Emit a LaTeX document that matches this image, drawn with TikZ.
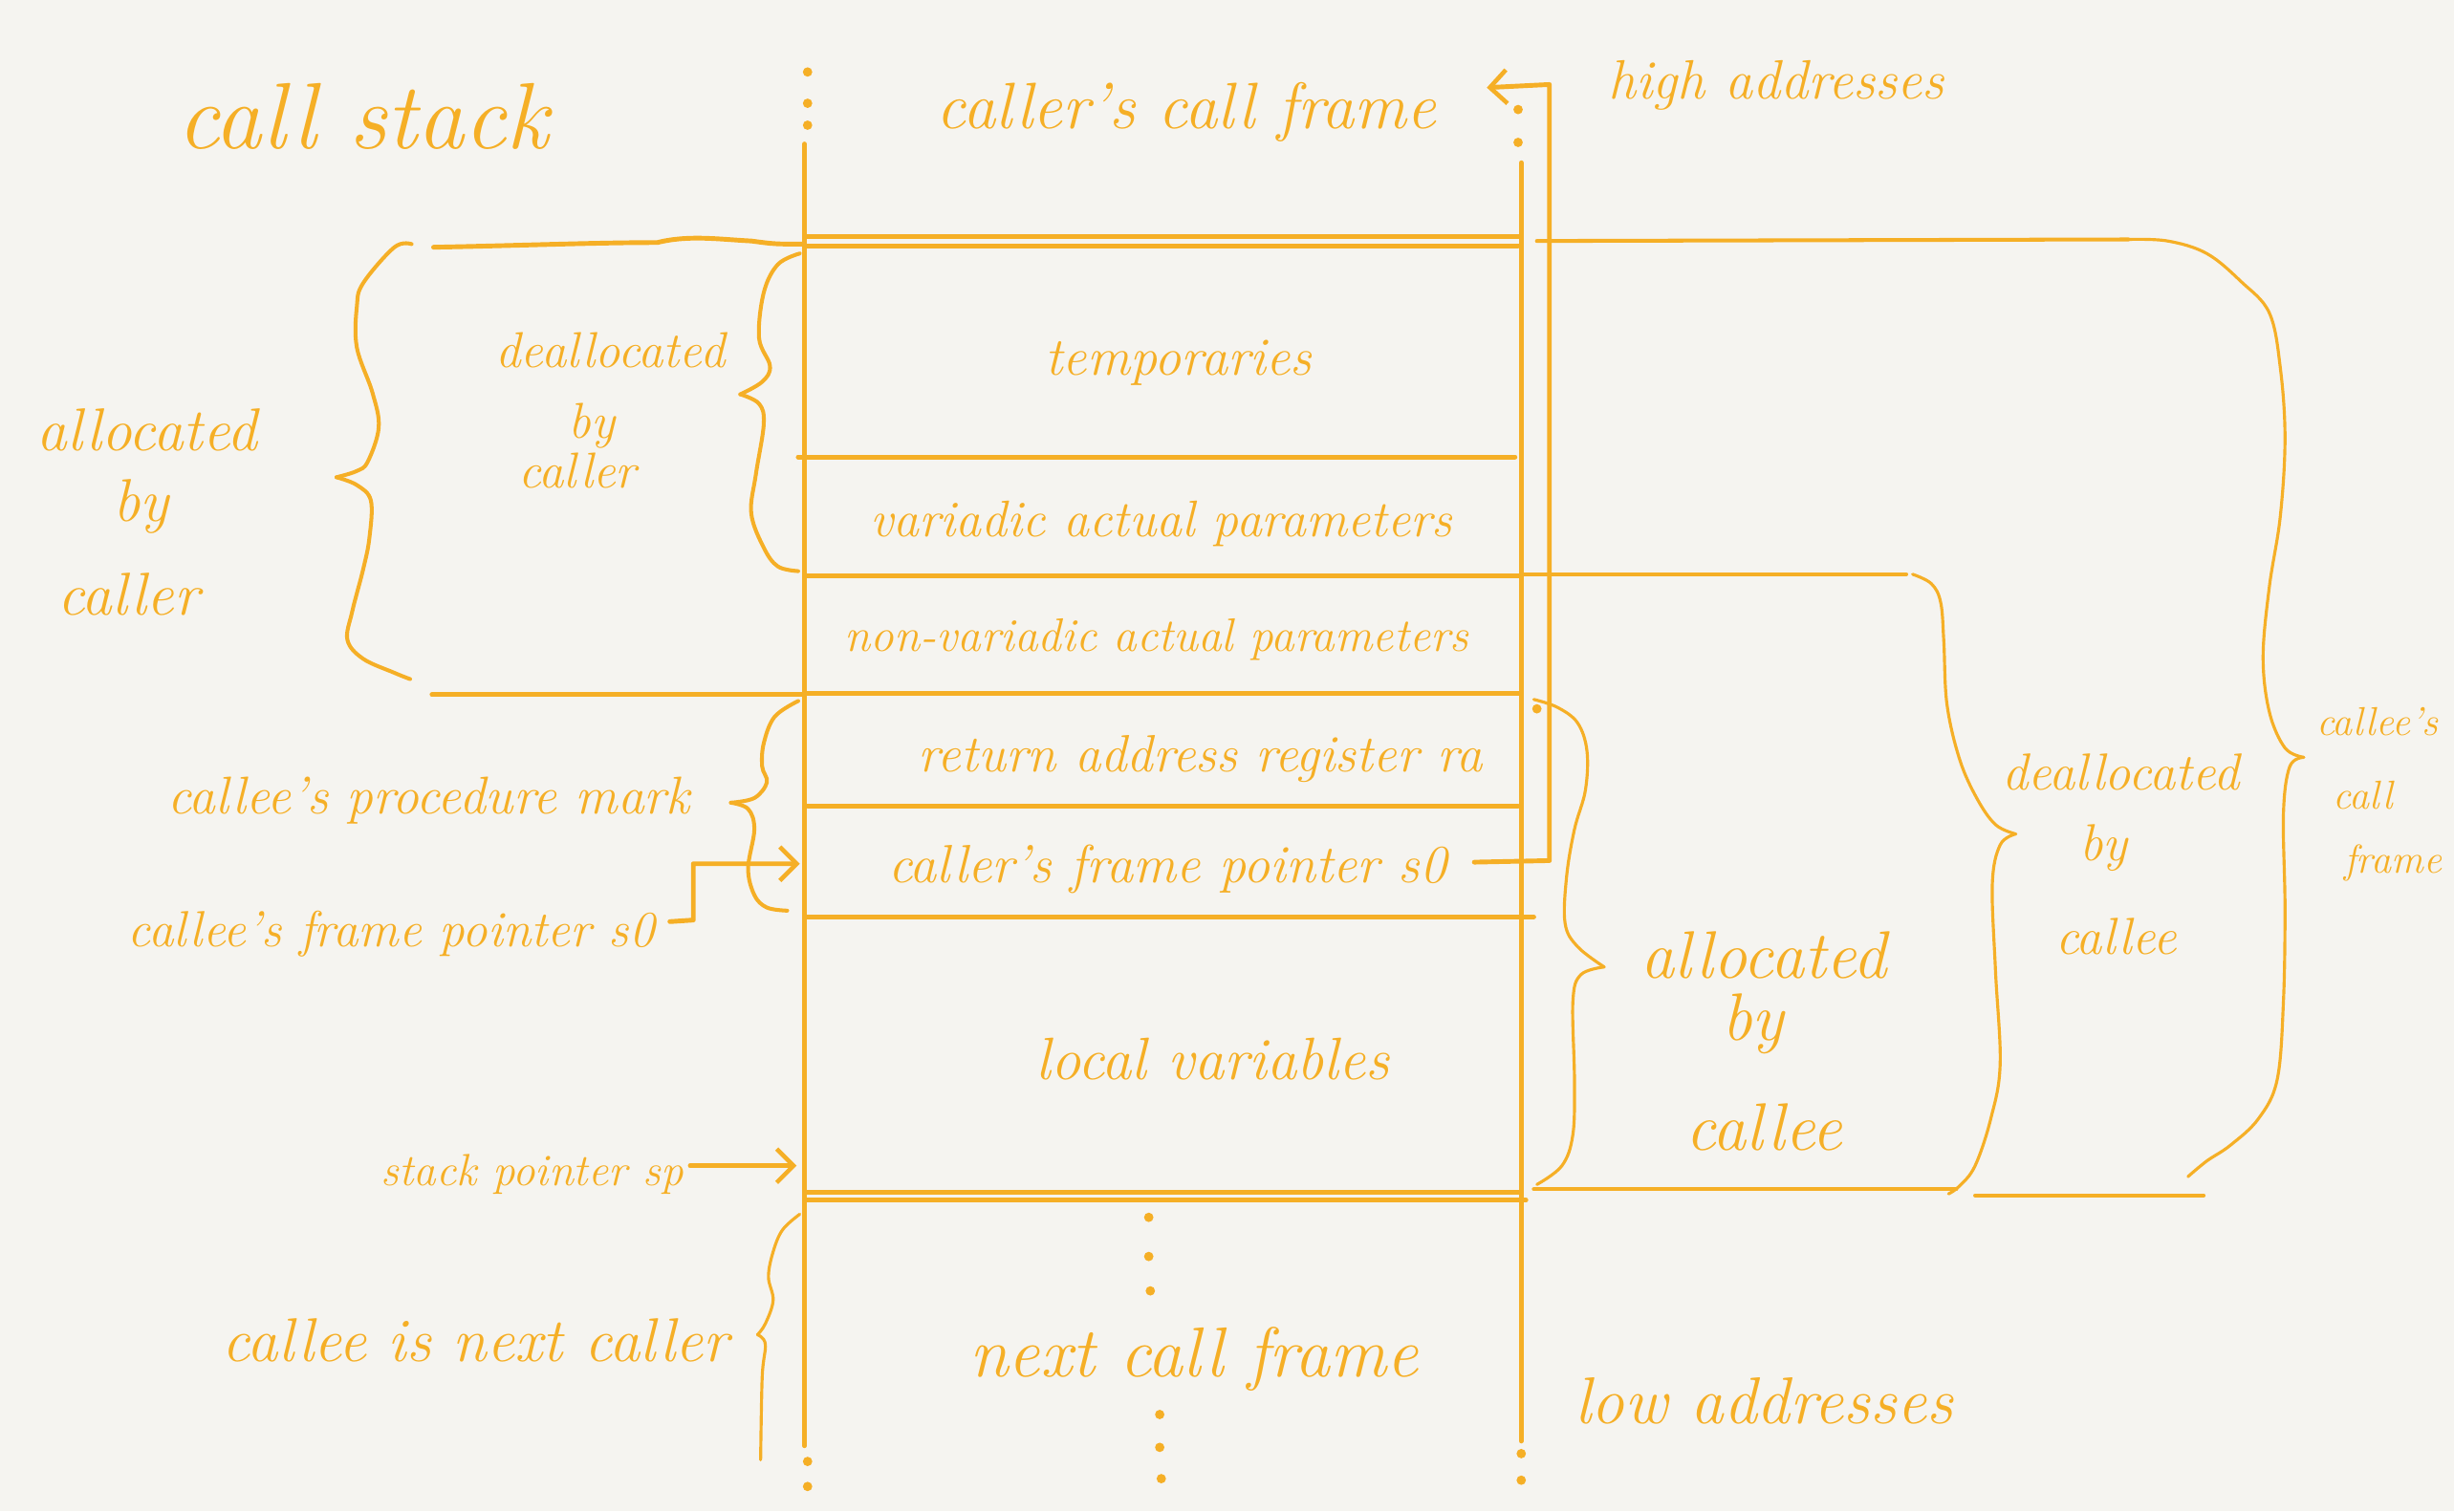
\documentclass[tikz,border=0pt]{standalone}
\usepackage{fontspec}
\usetikzlibrary{arrows.meta}
\definecolor{ink}{HTML}{F5AF26}
\definecolor{paper}{HTML}{F5F4F0}
\begin{document}
\begin{tikzpicture}[x=0.01637cm,y=-0.01637cm, line cap=round, line join=round,
  mainline/.style={draw=ink, line width=1.4pt},
  braceline/.style={draw=ink, line width=1.15pt},
  thinline/.style={draw=ink, line width=0.9pt},
  lbl/.style={text=ink, inner sep=0pt, anchor=base},
  fs/.style={font=\fontsize{#1}{#1}\selectfont\itshape},
  tip/.style={-{Straight Barb[length=5pt,width=10pt,line width=1.3pt]}}]
\path[fill=paper] (0,0) rectangle (1568,966);
\useasboundingbox (0,0) rectangle (1568,966);

% stack verticals
\draw[mainline] (514,92) -- (514,924);
\draw[mainline] (972,104) -- (972,921);
\foreach \p in {(516,46),(516,66),(516,80),(516,934),(516,950),(970,70),(970,91),(972,929),(972,946),
  (734,778),(734,803),(735,825),(741,904),(741,925),(742,945),(982,453)}
  \fill[ink] \p circle[radius=1.4pt];

% stack horizontals
\draw[mainline] (514,151) -- (972,151);
\draw[mainline] (514,157) -- (970,157);
\draw[mainline] (510,292) -- (968,292);
\draw[mainline] (514,368) -- (972,368);
\draw[mainline] (514,443) -- (972,443);
\draw[mainline] (516,515) -- (970,515);
\draw[mainline] (516,586) -- (980,586);
\draw[mainline] (514,762) -- (972,762);
\draw[mainline] (514,767) -- (975,767);

% left extensions
\draw[mainline] (277,158) .. controls (330,157) and (380,155) .. (420,155)
  .. controls (440,150) and (460,153) .. (480,154) .. controls (495,156) .. (514,156);
\draw[mainline] (276,444) -- (514,444);

% right extensions
\draw[braceline] (982,154) -- (1360,153);
\draw[braceline] (972,367) -- (1218,367);
\draw[braceline] (980,760) -- (1250,760);
\draw[braceline] (1262,764) -- (1408,764);

% braces
\draw[braceline] plot[smooth, tension=0.6] coordinates {(263,156) (252,158) (232,181) (228,196) (228,222) (238,251) (242,273) (235,295) (228,301) (215,305)};
\draw[braceline] plot[smooth, tension=0.6] coordinates {(215,305) (228,310) (237,320) (236,344) (232,364) (225,391) (222,409) (232,421) (252,430) (262,434)};

\draw[braceline] plot[smooth, tension=0.6] coordinates {(511,162) (497,169) (488,187) (485,216) (492,234) (487,244) (473,252)};
\draw[braceline] plot[smooth, tension=0.6] coordinates {(473,252) (485,258) (488,271) (483,303) (480,328) (488,350) (497,362) (510,365)};

\draw[braceline] plot[smooth, tension=0.6] coordinates {(510,448) (495,458) (488,475) (487,490) (490,500) (482,510) (467,513)};
\draw[braceline] plot[smooth, tension=0.6] coordinates {(467,513) (478,517) (482,530) (478,555) (482,572) (490,580) (503,582)};

\draw[thinline] plot[smooth, tension=0.6] coordinates {(511,776) (500,786) (494,800) (491,816) (494,831) (489,846) (484,853)};
\draw[thinline] plot[smooth, tension=0.6] coordinates {(484,853) (489,859) (487,880) (486,933)};

\draw[thinline] plot[smooth, tension=0.6] coordinates {(980,447) (995,452) (1008,462) (1014,480) (1013,505) (1006,530) (1001,560) (1000,590) (1008,605) (1025,618)};
\draw[thinline] plot[smooth, tension=0.6] coordinates {(1025,618) (1010,623) (1005,640) (1006,690) (1005,725) (998,745) (982,757)};

\draw[thinline] plot[smooth, tension=0.6] coordinates {(1222,367) (1234,373) (1240,385) (1242,410) (1244,450) (1252,485) (1263,510) (1275,527) (1288,533)};
\draw[thinline] plot[smooth, tension=0.6] coordinates {(1288,533) (1278,540) (1273,565) (1275,620) (1278,680) (1272,715) (1262,745) (1252,758) (1245,763)};

\draw[thinline] plot[smooth, tension=0.6] coordinates {(1360,153) (1385,154) (1410,162) (1432,180) (1450,200) (1457,235) (1460,280) (1457,330) (1450,375) (1446,420) (1450,455) (1460,478) (1472,484)};
\draw[thinline] plot[smooth, tension=0.6] coordinates {(1472,484) (1463,490) (1459,520) (1460,580) (1459,640) (1455,690) (1443,715) (1425,732) (1410,742) (1398,752)};

% texts
\node[lbl, fs=28] (title) at (232,95) {call stack};
\node[lbl, fs=19.5] (prev) at (758,82) {caller's call frame};
\node[lbl, fs=16.5] (high) at (1135,63) {high addresses};
\node[lbl, fs=16] (temp) at (753,240) {temporaries};
\node[lbl, fs=15.3] (varp) at (742,343) {variadic actual parameters};
\node[lbl, fs=14] (nvarp) at (739,416) {non-variadic actual parameters};
\node[lbl, fs=15.6] (ra) at (767,493) {return address register ra};
\node[lbl, fs=16] (fps) at (746,564) {caller's frame pointer s0};
\node[lbl, fs=17.8] (locv) at (775,690) {local variables};
\node[lbl, fs=21] (nextf) at (763,880) {next call frame};
\node[lbl, fs=19.7] (low) at (1127,910) {low addresses};

\node[lbl, fs=18] (ac1) at (94,288) {allocated};
\node[lbl, fs=18] (ac2) at (90,333) {by};
\node[lbl, fs=18] (ac3) at (82,393) {caller};
\node[lbl, fs=15] (dc1) at (390,235) {deallocated};
\node[lbl, fs=15] (dc2) at (378,280) {by};
\node[lbl, fs=15] (dc3) at (369,312) {caller};
\node[lbl, fs=15.8] (pm) at (274,520) {callee's procedure mark};
\node[lbl, fs=15.1] (cfp) at (250,605) {callee's frame pointer s0};
\node[lbl, fs=13.4] (spl) at (340,758) {stack pointer sp};
\node[lbl, fs=18.4] (nc) at (304,870) {callee is next caller};

\node[lbl, fs=20] (ae1) at (1127,625) {allocated};
\node[lbl, fs=20] (ae2) at (1120,665) {by};
\node[lbl, fs=20] (ae3) at (1127,735) {callee};
\node[lbl, fs=15.5] (de1) at (1355,505) {deallocated};
\node[lbl, fs=15.5] (de2) at (1344,550) {by};
\node[lbl, fs=15.5] (de3) at (1352,610) {callee};
\node[lbl, fs=12] (cf1) at (1519,470) {callee's};
\node[lbl, fs=12] (cf2) at (1510,517) {call};
\node[lbl, fs=12] (cf3) at (1529,558) {frame};

% connectors
\coordinate (fpsTail) at (942,551);
\coordinate (fpsHead) at (950,56);
\draw[mainline, tip] (fpsTail) -- (990,550) -- (990,54) -- (fpsHead);
\coordinate (cfpTail) at (428,589);
\coordinate (cfpHead) at (511,552);
\draw[mainline, tip] (cfpTail) -- (443,588) -- (443,552) -- (cfpHead);
\coordinate (spTail) at (441,745);
\coordinate (spHead) at (509,745);
\draw[mainline, tip] (spTail) -- (spHead);
\end{tikzpicture}
\end{document}
